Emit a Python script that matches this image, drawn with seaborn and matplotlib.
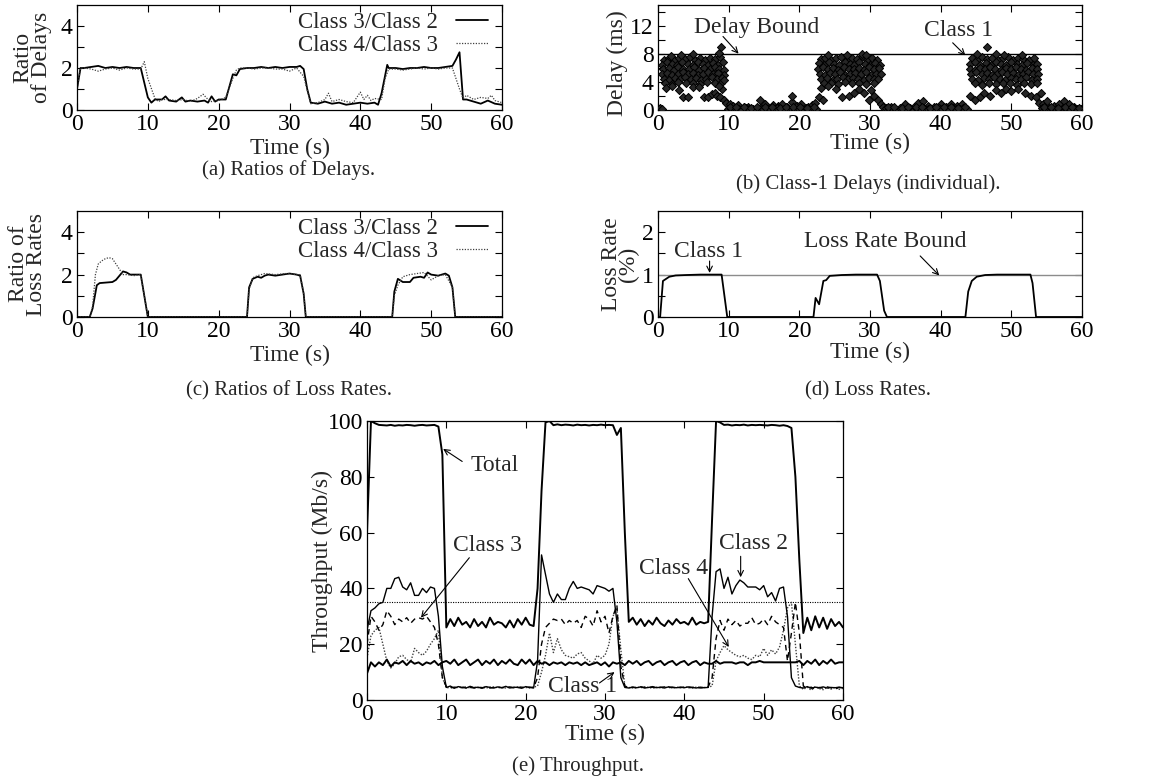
import numpy as np
import matplotlib
matplotlib.use("Agg")
import matplotlib.pyplot as plt
import seaborn as sns

# ---------------- (a) ratios of delays ----------------
a_t32 = [0, 0.5, 1, 2, 3, 4, 5, 6, 7, 8, 9, 10,
         10.5, 11, 12, 12.5, 13, 14, 14.8, 15.3, 16, 17, 18, 18.5, 19, 19.5, 20, 21,
         22, 22.5, 23, 24, 25, 26, 27, 28, 29, 30, 31, 31.5, 32, 32.5,
         33, 34, 35, 36, 37, 38, 39, 40, 41, 42, 42.5, 43,
         43.8, 44, 45, 46, 47, 48, 49, 50, 51, 52, 53, 53.5, 54, 54.5,
         55, 56, 57, 58, 59, 60]
a_v32 = [1.0, 2.0, 2.0, 2.05, 2.1, 2.0, 2.05, 2.0, 2.05, 2.0, 2.0, 0.6,
         0.35, 0.5, 0.5, 0.65, 0.45, 0.4, 0.6, 0.4, 0.45, 0.4, 0.45, 0.35, 0.65, 0.4, 0.5, 0.5,
         1.7, 1.65, 1.95, 2.0, 2.0, 2.05, 2.0, 2.05, 2.0, 2.05, 2.05, 2.1, 1.95, 1.0,
         0.35, 0.3, 0.4, 0.3, 0.35, 0.25, 0.3, 0.35, 0.3, 0.35, 0.25, 0.8,
         2.15, 2.0, 2.0, 1.95, 2.0, 2.0, 2.05, 2.0, 2.0, 2.05, 2.1, 2.4, 2.75, 0.5,
         0.5, 0.4, 0.3, 0.45, 0.3, 0.25]
a_t43 = [0, 0.5, 1, 2, 3, 4, 5, 6, 7, 8, 9, 9.5, 10,
         11, 11.5, 12, 13, 14, 15, 16, 17, 17.8, 18.5, 19, 20, 21,
         22, 22.5, 23, 24, 25, 26, 27, 28, 29, 30, 31, 32,
         33, 34, 35, 35.5, 36, 37, 38, 39, 40, 40.5, 41, 41.5, 42, 43, 43.5,
         44, 45, 46, 47, 48, 49, 50, 51, 52, 53, 54,
         54.5, 55, 56, 57, 58, 58.5, 59, 60]
a_v43 = [1.0, 2.0, 2.0, 1.95, 1.85, 1.95, 2.0, 1.9, 2.0, 1.95, 1.95, 2.3, 1.5,
         0.55, 0.4, 0.5, 0.5, 0.45, 0.5, 0.4, 0.55, 0.75, 0.5, 0.4, 0.45, 0.6,
         1.5, 1.9, 2.0, 2.0, 1.95, 2.0, 2.0, 1.95, 1.95, 1.85, 2.0, 1.6,
         0.3, 0.35, 0.5, 0.8, 0.4, 0.5, 0.4, 0.35, 0.85, 0.5, 0.7, 0.45, 0.55, 0.5, 1.5,
         1.95, 1.95, 1.9, 1.95, 2.0, 1.95, 2.0, 1.95, 2.0, 2.0, 1.0,
         0.55, 0.7, 0.5, 0.6, 0.55, 0.7, 0.45, 0.35]

# ---------------- (b) class-1 delays (individual packets) ----------------
b_core_t = [0.8, 1.6, 2.3, 3.0, 3.8, 4.5, 5.2, 5.9, 6.7, 7.4, 8.1, 8.8,
            0.6, 1.3, 2.0, 2.7, 3.4, 4.2, 4.9, 5.6, 6.3, 7.1, 7.8, 8.5, 9.2,
            0.7, 1.5, 2.2, 2.9, 3.6, 4.4, 5.1, 5.8, 6.5, 7.3, 8.0, 8.7, 9.4,
            0.6, 1.3, 2.0, 2.8, 3.5, 4.2, 4.9, 5.7, 6.4, 7.1, 7.8, 8.5, 9.3,
            0.8, 1.6, 2.4, 3.1, 3.8, 4.6, 5.4, 6.1, 6.8, 7.6, 8.3, 9.0,
            1.0, 2.0, 2.9, 4.0, 5.0, 6.0, 7.0, 8.0, 8.9,
            23.0, 23.7, 24.5, 25.2, 25.9, 26.7, 27.4, 28.1, 28.9, 29.6, 30.3, 31.0,
            22.8, 23.5, 24.2, 24.9, 25.6, 26.4, 27.1, 27.8, 28.5, 29.3, 30.0, 30.7, 31.4,
            22.7, 23.4, 24.1, 24.8, 25.5, 26.3, 27.0, 27.7, 28.4, 29.2, 29.9, 30.6, 31.3,
            22.9, 23.6, 24.3, 25.0, 25.8, 26.5, 27.2, 27.9, 28.7, 29.4, 30.1, 30.9, 31.6,
            23.1, 23.9, 24.7, 25.4, 26.2, 26.9, 27.6, 28.3, 29.1, 29.8, 30.5, 31.2,
            23.5, 24.5, 25.5, 26.5, 27.5, 28.5, 29.5, 30.5,
            44.4, 45.1, 45.9, 46.6, 47.3, 48.1, 48.8, 49.5, 50.3, 51.0, 51.7, 52.5, 53.2,
            44.2, 44.9, 45.6, 46.4, 47.1, 47.8, 48.6, 49.3, 50.0, 50.8, 51.5, 52.2, 53.0, 53.7,
            44.1, 44.8, 45.5, 46.3, 47.0, 47.7, 48.5, 49.2, 49.9, 50.7, 51.4, 52.1, 52.9, 53.6,
            44.3, 45.0, 45.8, 46.5, 47.2, 48.0, 48.7, 49.4, 50.2, 50.9, 51.6, 52.4, 53.1, 53.8,
            44.5, 45.3, 46.1, 46.9, 47.6, 48.4, 49.1, 49.9, 50.6, 51.4, 52.1, 52.9, 53.6,
            44.8, 45.8, 46.8, 47.8, 48.8, 49.8, 50.8, 51.8, 52.8, 53.6]
b_core_d = [7.1, 7.4, 7.2, 7.5, 7.3, 7.6, 7.2, 7.4, 7.1, 7.5, 7.3, 7.6,
            6.5, 6.8, 6.6, 6.4, 6.9, 6.6, 6.5, 6.8, 6.6, 6.4, 6.7, 6.5, 6.8,
            5.8, 6.0, 5.7, 6.1, 5.9, 5.8, 6.1, 5.7, 6.0, 5.8, 6.1, 5.9, 5.7,
            5.1, 5.3, 5.0, 5.2, 5.4, 5.1, 5.3, 5.0, 5.2, 5.4, 5.1, 5.3, 5.0,
            4.5, 4.3, 4.6, 4.4, 4.7, 4.4, 4.6, 4.3, 4.5, 4.7, 4.4, 4.6,
            3.9, 3.7, 4.0, 3.8, 3.9, 3.7, 4.0, 3.8, 3.9,
            7.3, 7.5, 7.1, 7.4, 7.6, 7.2, 7.5, 7.3, 7.7, 7.1, 7.4, 7.2,
            6.7, 6.5, 6.8, 6.6, 6.4, 6.9, 6.6, 6.5, 6.8, 6.6, 6.4, 6.7, 6.5,
            5.9, 6.1, 5.8, 6.0, 5.7, 6.1, 5.9, 5.8, 6.0, 5.7, 6.1, 5.8, 6.0,
            5.2, 5.0, 5.3, 5.1, 5.4, 5.0, 5.2, 5.3, 5.1, 5.4, 5.0, 5.2, 5.1,
            4.4, 4.6, 4.3, 4.5, 4.7, 4.4, 4.6, 4.5, 4.3, 4.6, 4.4, 4.5,
            3.8, 3.9, 3.7, 4.0, 3.8, 3.9, 3.7, 3.9,
            7.4, 7.2, 7.6, 7.3, 7.5, 7.1, 7.4, 7.6, 7.2, 7.5, 7.3, 7.1, 7.4,
            6.6, 6.8, 6.5, 6.7, 6.4, 6.8, 6.6, 6.5, 6.9, 6.6, 6.4, 6.7, 6.5, 6.6,
            5.9, 5.7, 6.0, 5.8, 6.1, 5.9, 5.7, 6.0, 5.8, 6.1, 5.9, 5.7, 6.0, 5.8,
            5.2, 5.4, 5.1, 5.3, 5.0, 5.2, 5.4, 5.1, 5.3, 5.0, 5.2, 5.4, 5.1, 5.2,
            4.5, 4.3, 4.6, 4.4, 4.7, 4.5, 4.3, 4.6, 4.4, 4.5, 4.7, 4.3, 4.5,
            3.8, 3.6, 3.9, 3.7, 3.9, 3.8, 3.6, 3.9, 3.7, 3.8]
b_sparse_t = [5.0, 8.6, 8.9, 3.3, 1.9, 28.8, 29.4, 24.0, 26.8, 46.5, 45.2, 47.8, 49.0, 51.5,
              1.2, 2.0, 3.0, 3.6, 4.2, 5.0, 5.8, 6.5, 7.1, 7.6, 8.0, 8.4, 8.8, 9.1, 8.6, 9.3, 9.6, 9.4,
              22.8, 23.3, 23.0, 24.0, 25.2, 26.0, 27.0, 27.8, 28.5, 29.2, 29.8, 30.2, 30.6, 31.2, 31.5, 31.9,
              44.2, 44.8, 45.5, 46.2, 47.0, 47.8, 48.5, 49.3, 50.0, 51.0, 52.0, 52.8, 53.5, 53.9, 54.2,
              10.2, 10.6, 11.3, 12.1, 12.8, 14.5, 15.2, 16.3, 17.0, 17.6, 18.3, 18.9, 19.0, 19.7,
              20.3, 21.2, 21.8, 22.2,
              33.0, 35.0, 36.2, 36.8, 37.5, 38.2, 39.0, 40.0, 40.8, 41.5, 42.3, 43.0,
              54.5, 55.0, 56.0, 56.7, 57.5, 58.2, 58.8]
b_sparse_d = [8.0, 8.2, 9.0, 7.8, 7.7, 8.0, 7.9, 7.8, 7.9, 9.0, 8.0, 8.0, 7.9, 7.8,
              3.2, 3.5, 2.8, 1.8, 1.8, 3.3, 3.3, 1.9, 1.8, 2.3, 2.5, 2.0, 1.9, 3.0, 3.5, 1.5, 1.0, 4.3,
              1.8, 1.5, 3.2, 3.4, 3.0, 1.8, 2.0, 2.5, 3.0, 2.4, 1.5, 2.8, 2.0, 1.5, 0.8, 0.5,
              2.0, 1.5, 1.8, 2.5, 2.0, 2.8, 2.4, 3.0, 2.7, 3.0, 2.5, 2.0, 1.8, 1.0, 2.5,
              0.8, 0.6, 0.7, 0.5, 0.5, 1.4, 0.8, 0.7, 0.6, 0.8, 0.5, 1.2, 2.0, 0.6,
              0.9, 0.5, 0.7, 1.0,
              0.5, 0.8, 0.5, 1.0, 1.3, 0.6, 0.5, 0.9, 0.5, 0.8, 0.6, 0.9,
              0.8, 1.3, 0.6, 0.8, 1.3, 0.8, 0.5]
b_band_t = [0.1, 0.35, 0.6,
            9.9, 10.4, 10.9, 11.4, 11.9, 12.4, 12.9, 13.4, 13.9, 14.4, 14.9, 15.4, 15.9,
            16.4, 16.9, 17.4, 17.9, 18.4, 18.9, 19.4, 19.9, 20.4, 20.9, 21.4, 21.9, 22.4,
            32.2, 32.7, 33.2, 33.7, 34.2, 34.7, 35.2, 35.7, 36.2, 36.7, 37.2, 37.7,
            38.2, 38.7, 39.2, 39.7, 40.2, 40.7, 41.2, 41.7, 42.2, 42.7, 43.2, 43.7,
            54.3, 54.8, 55.3, 55.8, 56.3, 56.8, 57.3, 57.8, 58.3, 58.8, 59.3, 59.8,
            10.2, 11.1, 12.2, 13.1, 14.0, 15.1, 16.1, 17.2, 18.1, 19.1, 20.1, 21.1, 22.1,
            32.5, 33.4, 34.5, 35.4, 36.5, 37.4, 38.5, 39.4, 40.5, 41.4, 42.5, 43.4,
            54.6, 55.6, 56.6, 57.6, 58.6, 59.6]
b_band_d = [0.15, 0.25, 0.1,
            0.2, 0.1, 0.3, 0.15, 0.05, 0.25, 0.1, 0.2, 0.05, 0.3, 0.1, 0.2, 0.15,
            0.05, 0.25, 0.1, 0.2, 0.3, 0.1, 0.05, 0.2, 0.15, 0.3, 0.1, 0.25, 0.2,
            0.3, 0.1, 0.2, 0.05, 0.25, 0.15, 0.1, 0.3, 0.05, 0.2, 0.1, 0.25,
            0.15, 0.05, 0.2, 0.3, 0.1, 0.2, 0.05, 0.25, 0.15, 0.1, 0.3, 0.2,
            0.3, 0.15, 0.25, 0.1, 0.2, 0.05, 0.3, 0.15, 0.1, 0.25, 0.2, 0.1,
            0.45, 0.4, 0.5, 0.35, 0.45, 0.4, 0.5, 0.35, 0.45, 0.4, 0.5, 0.35, 0.45,
            0.4, 0.5, 0.35, 0.45, 0.4, 0.5, 0.35, 0.45, 0.4, 0.5, 0.35, 0.45,
            0.4, 0.5, 0.35, 0.45, 0.4, 0.35]
delay_bound = 8

# ---------------- (c) ratios of loss rates ----------------
c_t32 = [0, 1.8, 2.2, 2.8, 3.2, 5, 5.5, 6, 6.5, 7, 7.5, 8, 9, 9.5, 10,
         24, 24.3, 24.8, 25.5, 26, 26.5, 27, 28, 29, 30, 31, 31.5, 32, 32.3,
         44.5, 44.8, 45.3, 46, 47, 47.5, 48.5, 49, 49.5, 50, 51, 52, 52.5, 53, 53.4, 60]
c_v32 = [0, 0, 0.4, 1.5, 1.6, 1.65, 1.75, 1.95, 2.15, 2.1, 2.0, 2.0, 2.0, 1.0, 0,
         0, 1.4, 1.8, 1.9, 1.85, 1.95, 2.0, 1.95, 2.0, 2.05, 2.0, 1.95, 1.1, 0,
         0, 1.2, 1.8, 1.65, 1.65, 1.85, 1.9, 1.85, 2.1, 2.0, 1.95, 2.05, 1.95, 1.4, 0, 0]
c_t43 = [0, 1.8, 2.2, 2.6, 3, 3.5, 4, 4.5, 5, 5.5, 6, 6.5, 7, 8, 9, 9.5, 10,
         24, 24.3, 24.8, 25.5, 26.5, 28, 29.5, 31, 31.5, 32, 32.3,
         44.5, 44.8, 45.3, 46, 47, 48, 49, 50, 51, 52, 53, 53.4, 60]
c_v43 = [0, 0, 0.5, 2.0, 2.5, 2.65, 2.75, 2.8, 2.75, 2.5, 2.25, 2.0, 2.0, 1.95, 2.0, 1.0, 0,
         0, 1.3, 1.85, 1.95, 2.05, 2.0, 2.05, 2.0, 2.0, 1.1, 0,
         0, 1.0, 1.5, 1.9, 2.0, 2.05, 2.1, 1.75, 1.95, 2.0, 1.4, 0, 0]

# ---------------- (d) class-1 loss rate (%) ----------------
d_t = [0, 0.3, 0.7, 1.6, 2.5, 4, 6, 8, 9.0, 9.8,
       22, 22.3, 22.8, 23.4, 23.8, 24.3, 26, 28, 31, 31.4, 32, 32.4,
       43.5, 43.9, 44.4, 45.1, 46.3, 48, 50, 52.7, 53.0, 53.5, 60]
d_v = [0, 0, 0.85, 0.95, 0.98, 0.99, 1.0, 1.0, 1.0, 0,
       0, 0.45, 0.3, 0.85, 0.87, 0.97, 0.99, 1.0, 1.0, 0.85, 0.15, 0,
       0, 0.6, 0.85, 0.95, 0.99, 1.0, 1.0, 1.0, 0.8, 0, 0]
loss_bound = 1

# ---------------- (e) throughput (Mb/s), sampled every 0.5 s ----------------
e_time = np.arange(0, 60.5, 0.5)
e_total = [60, 100, 99.2, 98.6, 98.5, 98.4, 98.6, 98.3, 98.5, 98.4, 98.6, 98.5, 98.3, 98.5, 98.6, 98.4, 98.5, 98.6, 98.0, 88,
           26, 29, 26.5, 29.5, 27, 28, 26, 29, 26.5, 28, 26, 29.5, 27, 28, 27.5, 26, 28.5, 26, 29, 27,
           29.5, 27, 26.5, 40, 75, 99.5, 100, 98.5, 98.8, 98.5, 98.7, 98.6, 98.4, 98.7, 98.5, 98.6, 98.4, 98.6, 98.5, 98.7,
           98.5, 98.6, 98.5, 95, 97.5, 60, 28, 29.5, 27, 29, 26.5, 28.5, 27, 29.5, 27.5, 26.5, 28.5, 27, 29, 27.5,
           28, 27, 29.5, 27, 28, 27.5, 28, 65, 100, 99.5, 98.6, 98.7, 98.4, 98.6, 98.5, 98.7, 98.4, 98.6, 98.5, 98.6,
           98.5, 98.4, 98.6, 98.5, 98.3, 98.5, 98.2, 97.5, 80, 50, 24, 29.5, 25, 30, 26, 29.5, 25.5, 29, 26.5, 28,
           26]
e_class1 = [9.5, 13.5, 12, 13.5, 12.5, 14.5, 12, 13.5, 13, 14, 12.5, 14, 13, 13.5, 12.5, 13.5, 13, 14, 12.5, 13.5,
            14, 13, 14.5, 12.5, 13.5, 14.5, 12.5, 13.5, 14.5, 12.5, 14, 13, 14.5, 12.5, 14, 13, 14.5, 13, 12.5, 14.5,
            13, 14.5, 12.5, 14, 13, 13.5, 12.5, 13.5, 13, 13.5, 12.5, 13.5, 13, 13.5, 12.5, 13.5, 12.5, 13, 13.5, 12.5,
            13.5, 12, 13.5, 13, 13.5, 12.5, 14, 13, 14, 12.5, 13.5, 14, 12.5, 13.5, 14, 12.5, 13.5, 14, 12.5, 13.5,
            14, 12.5, 13.5, 14, 12.5, 13.5, 13, 13, 14, 13, 13.5, 13.5, 13.5, 13, 13.5, 13.5, 12.5, 13.5, 13.5, 14,
            13.5, 13.5, 13.5, 13.5, 13.5, 13.5, 13.5, 13.5, 13.5, 14, 12.5, 14, 13, 14.5, 12.5, 14, 13, 14.5, 13, 13.5,
            13.5]
e_class2 = [25, 32, 33, 34.5, 35, 40, 40, 43.5, 44, 40.5, 39.5, 42, 37.5, 37.5, 40, 38.5, 40.5, 40, 30, 12,
            4.5, 5, 4.2, 4.8, 4.5, 4.3, 4.9, 4.4, 4.6, 4.2, 4.8, 4.5, 4.3, 4.7, 4.4, 4.9, 4.3, 4.6, 4.5, 4.2,
            4.8, 4.5, 4.3, 14, 52, 45, 38, 35, 38, 36, 36, 40, 42.5, 40, 40.5, 40, 39.5, 38, 41, 40.5,
            40, 39, 40, 28, 8, 4.5, 4.3, 4.6, 4.4, 4.7, 4.3, 4.5, 4.8, 4.4, 4.6, 4.3, 4.7, 4.5, 4.4, 4.6,
            4.4, 4.7, 4.5, 4.3, 4.6, 4.4, 4.5, 30, 46, 47, 40, 44, 38, 41, 43, 42, 40.5, 40.5, 40.5, 39.5,
            41, 37, 38.5, 35.5, 40, 40.5, 30, 8, 5, 4.5, 4.3, 4.8, 4.2, 4.6, 4.4, 4.7, 4.3, 4.5, 4.4, 4.6,
            4.4]
e_class3 = [20, 30, 28, 25, 27, 32, 30, 27, 29, 28, 29.5, 27.5, 29, 29.5, 29, 30, 28, 26, 20, 8,
            4.8, 4.3, 4.6, 4.5, 4.4, 4.7, 4.5, 4.3, 4.6, 4.4, 4.7, 4.3, 4.5, 4.6, 4.4, 4.5, 4.7, 4.3, 4.5, 4.6,
            4.4, 4.6, 4.5, 8, 20, 26, 27.5, 29, 28.5, 29, 27, 28.5, 27.5, 28.5, 26, 30, 29, 26.5, 32, 28,
            30, 24, 30, 34, 12, 5, 4.4, 4.6, 4.3, 4.7, 4.5, 4.4, 4.6, 4.3, 4.5, 4.7, 4.4, 4.6, 4.3, 4.5,
            4.6, 4.4, 4.5, 4.7, 4.3, 4.5, 4.6, 8, 22, 28.5, 25, 29, 27, 28.5, 26.5, 27.5, 27.5, 29.5, 27, 27.5,
            29, 27, 30, 28, 27, 26, 14, 24, 35, 24, 5, 4.3, 4.6, 3.8, 4.5, 4.2, 4.7, 4.4, 3.9, 4.5,
            4.3]
e_class4 = [15, 23, 25, 26, 20, 14, 11.5, 13, 15.5, 16, 14.5, 13.5, 18.5, 17, 16, 17.5, 20, 22, 25, 8,
            4.3, 4.6, 4.4, 4.5, 4.7, 4.3, 4.5, 4.6, 4.4, 4.5, 4.3, 4.6, 4.7, 4.4, 4.5, 4.3, 4.6, 4.4, 4.7, 4.5,
            4.5, 4.3, 4.6, 5, 10, 16, 24, 17, 22, 18, 16, 15.5, 15, 16.5, 17, 15, 14, 13, 16, 15,
            16, 20, 30, 33, 18, 5, 4.5, 4.3, 4.6, 4.4, 4.7, 4.5, 4.3, 4.6, 4.4, 4.5, 4.7, 4.3, 4.6, 4.4,
            4.5, 4.7, 4.3, 4.6, 4.4, 4.5, 4.6, 5, 14, 17, 19.5, 18, 17, 16, 15.5, 16, 15, 14.5, 16, 15.5,
            18.5, 16, 18, 16.5, 19, 25, 33, 35, 20, 5, 3.8, 4.6, 3.5, 4.8, 4.1, 3.7, 4.5, 3.9, 4.6, 3.8,
            4.2]
e_ref = 35

# ---------------- styling ----------------
sns.set_style("ticks")
plt.rcParams['font.family'] = ['Liberation Serif', 'DejaVu Serif']
plt.rcParams['axes.linewidth'] = 0.8

FS = 17      # ticks, labels, notes
LEG = 16.5   # legend text
CAP = 15     # sub-figure captions
DOT = (0, (1, 1.2))

W, H = 1151, 784
fig = plt.figure(figsize=(W / 100, H / 100), dpi=100)


def box(left, top, right, bottom):
    return [left / W, 1 - bottom / H, (right - left) / W, (bottom - top) / H]


def style(ax, ylim, major, minor):
    ax.set_xlim(0, 60)
    ax.set_ylim(*ylim)
    ax.set_xticks(range(0, 61, 10))
    ax.set_yticks(major)
    ax.set_yticks(minor, minor=True)
    ax.tick_params(which='both', direction='in', top=True, right=True,
                   length=5, width=0.8, labelsize=FS, pad=3, colors='black')
    for s in ax.spines.values():
        s.set_linewidth(0.9)
        s.set_color('black')


def note(ax, text, xy_text, tail, head):
    ax.text(*xy_text, text, fontsize=FS, ha='center', va='center')
    ax.annotate('', xy=head, xytext=tail,
                arrowprops=dict(arrowstyle='->', lw=0.8, color='black', shrinkA=0, shrinkB=0))


def legend(ax):
    ax.legend(loc='upper right', bbox_to_anchor=(1.0, 1.06), frameon=False, fontsize=LEG,
              markerfirst=False, handlelength=1.4, handletextpad=0.8, labelspacing=0.05,
              borderaxespad=0.2)


ax_a = fig.add_axes(box(77, 5, 502, 110))
ax_b = fig.add_axes(box(658, 5, 1082, 110))
ax_c = fig.add_axes(box(77, 211, 502, 317))
ax_d = fig.add_axes(box(658, 211, 1082, 317))
ax_e = fig.add_axes(box(367, 421, 843, 700))

# (a)
sns.lineplot(x=a_t32, y=a_v32, ax=ax_a, color='black', lw=1.3, label='Class 3/Class 2')
sns.lineplot(x=a_t43, y=a_v43, ax=ax_a, color='0.25', lw=0.9, linestyle=DOT, label='Class 4/Class 3')
style(ax_a, (0, 5), [0, 2, 4], [1, 3])
legend(ax_a)
ax_a.set_ylabel('Ratio\nof Delays', fontsize=FS, linespacing=0.85)
ax_a.yaxis.set_label_coords(-0.06, 0.5)
ax_a.set_xlabel('Time (s)', fontsize=FS)
ax_a.xaxis.set_label_coords(0.5, -0.27)

# (b)
b_t = b_core_t + b_sparse_t + b_band_t
b_d = b_core_d + b_sparse_d + b_band_d
ax_b.axhline(delay_bound, color='black', lw=1.0, zorder=1)
sns.scatterplot(x=b_t, y=b_d, ax=ax_b, marker='D', s=17, color='0.15',
                edgecolor='black', linewidth=0.7, zorder=3)
style(ax_b, (0, 15), [0, 4, 8, 12], [2, 6, 10, 14])
note(ax_b, 'Delay Bound', (13.9, 11.8), (9.2, 10.5), (11.4, 8.05))
note(ax_b, 'Class 1', (42.5, 11.4), (41.7, 9.6), (43.5, 7.8))
ax_b.set_ylabel('Delay (ms)', fontsize=FS)
ax_b.yaxis.set_label_coords(-0.07, 0.45)
ax_b.set_xlabel('Time (s)', fontsize=FS)
ax_b.xaxis.set_label_coords(0.5, -0.22)

# (c)
sns.lineplot(x=c_t32, y=c_v32, ax=ax_c, color='black', lw=1.3, label='Class 3/Class 2')
sns.lineplot(x=c_t43, y=c_v43, ax=ax_c, color='0.25', lw=0.9, linestyle=DOT, label='Class 4/Class 3')
style(ax_c, (0, 5), [0, 2, 4], [1, 3])
legend(ax_c)
ax_c.set_ylabel('Ratio of\nLoss Rates', fontsize=FS, linespacing=0.85)
ax_c.yaxis.set_label_coords(-0.07, 0.5)
ax_c.set_xlabel('Time (s)', fontsize=FS)
ax_c.xaxis.set_label_coords(0.5, -0.26)

# (d)
ax_d.axhline(loss_bound, color='0.55', lw=1.0, zorder=1)
sns.lineplot(x=d_t, y=d_v, ax=ax_d, color='black', lw=1.3)
style(ax_d, (0, 2.5), [0, 1, 2], [0.5, 1.5])
note(ax_d, 'Class 1', (7.1, 1.55), (7.3, 1.32), (7.3, 1.04))
note(ax_d, 'Loss Rate Bound', (32.1, 1.78), (37.1, 1.44), (39.8, 0.98))
ax_d.set_ylabel('Loss Rate\n(%)', fontsize=FS, linespacing=0.75)
ax_d.yaxis.set_label_coords(-0.045, 0.5)
ax_d.set_xlabel('Time (s)', fontsize=FS)
ax_d.xaxis.set_label_coords(0.5, -0.235)

# (e)
ax_e.axhline(e_ref, color='black', lw=0.8, linestyle=DOT, zorder=1)
sns.lineplot(x=e_time, y=e_class4, ax=ax_e, color='0.25', lw=1.0, linestyle=DOT)
sns.lineplot(x=e_time, y=e_class3, ax=ax_e, color='black', lw=1.0, linestyle=(0, (4, 3)))
sns.lineplot(x=e_time, y=e_class2, ax=ax_e, color='black', lw=1.0)
sns.lineplot(x=e_time, y=e_class1, ax=ax_e, color='black', lw=1.4)
sns.lineplot(x=e_time, y=e_total, ax=ax_e, color='black', lw=1.4)
style(ax_e, (0, 100), list(range(0, 101, 20)), [])
note(ax_e, 'Total', (16.1, 84), (12.0, 85.5), (9.6, 90))
note(ax_e, 'Class 3', (15.2, 55.5), (12.9, 51), (6.8, 29.5))
note(ax_e, 'Class 4', (38.6, 47.3), (40.5, 43.5), (45.6, 19))
note(ax_e, 'Class 2', (48.7, 56), (47.1, 51.5), (47.1, 44))
note(ax_e, 'Class 1', (27.2, 5.0), (29.3, 6.1), (31.2, 10))
ax_e.set_ylabel('Throughput (Mb/s)', fontsize=FS)
ax_e.yaxis.set_label_coords(-0.072, 0.5)
ax_e.set_xlabel('Time (s)', fontsize=FS)
ax_e.xaxis.set_label_coords(0.5, -0.085)

# captions
fig.text(289 / W, 1 - 170 / H, '(a) Ratios of Delays.', fontsize=CAP, ha='center', va='center')
fig.text(868 / W, 1 - 184 / H, '(b) Class-1 Delays (individual).', fontsize=CAP, ha='center', va='center')
fig.text(289 / W, 1 - 391 / H, '(c) Ratios of Loss Rates.', fontsize=CAP, ha='center', va='center')
fig.text(868 / W, 1 - 391 / H, '(d) Loss Rates.', fontsize=CAP, ha='center', va='center')
fig.text(578 / W, 1 - 766 / H, '(e) Throughput.', fontsize=CAP, ha='center', va='center')

fig.savefig('out.png', dpi=100, facecolor='white')
